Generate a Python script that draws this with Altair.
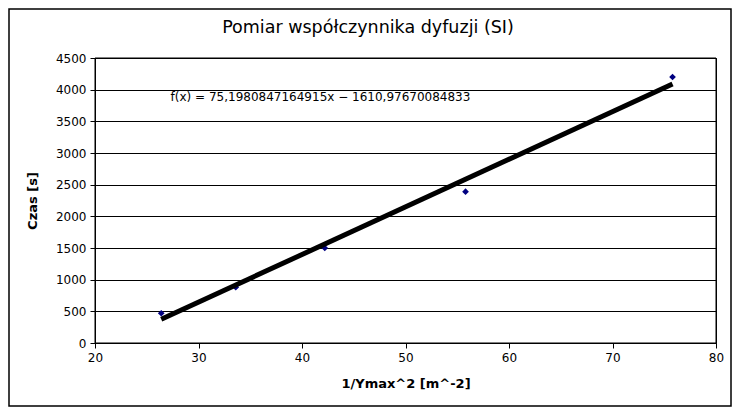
import altair as alt
import pandas as pd

# data
x_vals = [26.4, 33.6, 42.2, 55.8, 75.8]
y_vals = [470, 880, 1500, 2390, 4200]
slope = 75.1980847164915
intercept = -1610.97670084833
eq_label = ["f(x) = 75,1980847164915x \u2212 1610,97670084833"]
eq_pos_x = [27.3]
eq_pos_y = [3880]
title_text = ["Pomiar współczynnika dyfuzji (SI)"]
x_ticks = [20, 30, 40, 50, 60, 70, 80]
y_ticks = [0, 500, 1000, 1500, 2000, 2500, 3000, 3500, 4000, 4500]

pts = pd.DataFrame({"x": x_vals, "y": y_vals})
fit = pd.DataFrame({"x": [min(x_vals), max(x_vals)]})
fit["y"] = slope * fit["x"] + intercept
eq = pd.DataFrame({"x": eq_pos_x, "y": eq_pos_y, "t": eq_label})
ttl = pd.DataFrame({"t": title_text})

FONT = "DejaVu Sans"
xs = alt.Scale(domain=[20, 80], nice=False, zero=False)
ys = alt.Scale(domain=[0, 4500], nice=False)

xax = alt.Axis(values=x_ticks, grid=False, title="1/Ymax^2 [m^-2]", labelFont=FONT,
               labelFontSize=12, labelColor="black", titleFont=FONT, titleFontSize=13,
               titleFontWeight="bold", titleColor="black", domainColor="black",
               tickColor="black", tickSize=5, labelPadding=4, titlePadding=14,
               labelFlush=False, labelOverlap=False, format="d")
yax = alt.Axis(values=y_ticks, grid=True, gridColor="black", gridOpacity=1,
               title="Czas [s]", labelFont=FONT, labelFontSize=12, labelColor="black",
               titleFont=FONT, titleFontSize=13, titleFontWeight="bold",
               titleColor="black", domainColor="black", tickColor="black",
               tickSize=5, labelPadding=4, titlePadding=16, labelFlush=False,
               labelOverlap=False, format="d")

X = alt.X("x:Q", scale=xs, axis=xax)
Y = alt.Y("y:Q", scale=ys, axis=yax)

points = alt.Chart(pts).mark_point(shape="diamond", filled=True, color="#000080",
                                   size=45, opacity=1).encode(x=X, y=Y)
line = alt.Chart(fit).mark_line(color="black", strokeWidth=5).encode(x=X, y=Y)
text = alt.Chart(eq).mark_text(align="left", baseline="middle", font=FONT,
                               fontSize=12, color="black").encode(x=X, y=Y, text="t:N")
title = alt.Chart(ttl).mark_text(align="center", baseline="middle", font=FONT,
                                 fontSize=17.5, color="black").encode(
    x=alt.value(273), y=alt.value(-30), text="t:N"
)
plotbox = alt.Chart(ttl).mark_rect(fill=None, stroke="black", strokeWidth=1).encode(
    x=alt.value(0), x2=alt.value(621), y=alt.value(0), y2=alt.value(285)
)
frame = alt.Chart(ttl).mark_rect(fill=None, stroke="black", strokeWidth=1.5).encode(
    x=alt.value(-86), x2=alt.value(636), y=alt.value(-49), y2=alt.value(348)
)

chart = alt.layer(points, line, text, title, plotbox, frame).properties(
    width=621, height=285,
    background="white",
    autosize=alt.AutoSizeParams(type="none"),
    padding={"left": 87, "top": 50, "right": 16, "bottom": 65},
).configure_view(stroke="black", strokeWidth=1)

chart.save("out.html", embed_options={"renderer": "svg", "actions": False})
